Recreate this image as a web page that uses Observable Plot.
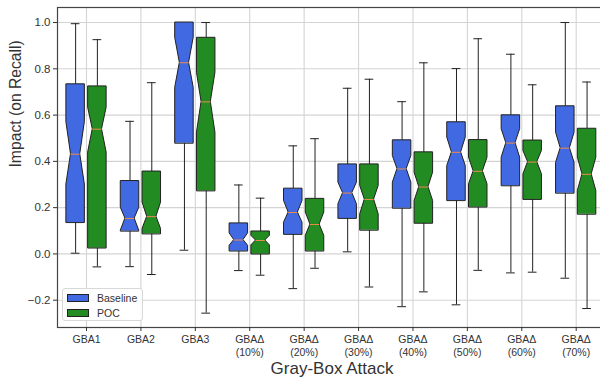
<!DOCTYPE html>
<html>
<head>
<meta charset="utf-8">
<script src="https://cdn.jsdelivr.net/npm/d3@7"></script>
<script src="https://cdn.jsdelivr.net/npm/@observablehq/plot@0.6"></script>
<style>
  body { margin: 0; background: #fff; }
  #wrap { position: relative; width: 600px; height: 381px; overflow: hidden; font-family: "Liberation Sans", Arial, sans-serif; }
  #wrap svg { display: block; max-width: none !important; }
  #legend { position: absolute; left: 62px; top: 288px; width: 81px; height: 33px; border: 1px solid #d8d8d8; border-radius: 3px; background: rgba(255,255,255,0.85); box-sizing: border-box; font-size: 10.5px; color: #333; }
  .item { position: absolute; left: 4px; display: flex; align-items: center; line-height: 12px; }
  .sw { width: 22px; height: 8px; border: 1px solid #222; box-sizing: border-box; margin-right: 8px; }
</style>
</head>
<body>
<div id="wrap"></div>
<script>
const categories = ["GBA1","GBA2","GBA3","GBAΔ\n(10%)","GBAΔ\n(20%)","GBAΔ\n(30%)","GBAΔ\n(40%)","GBAΔ\n(50%)","GBAΔ\n(60%)","GBAΔ\n(70%)"];
const seriesNames = ["Baseline","POC"];
const seriesColors = ["#4169e1","#228b22"];
// [whiskerLow, q1, notchLow, median, notchHigh, q3, whiskerHigh]
const baseline = [
  [0.003, 0.135, 0.300, 0.431, 0.570, 0.733, 0.995],
  [-0.055, 0.098, 0.100, 0.153, 0.200, 0.315, 0.573],
  [0.016, 0.478, 0.718, 0.826, 0.934, 1.000, 1.000],
  [-0.072, 0.012, 0.035, 0.060, 0.089, 0.132, 0.298],
  [-0.150, 0.084, 0.135, 0.179, 0.229, 0.282, 0.467],
  [0.009, 0.153, 0.215, 0.263, 0.308, 0.387, 0.716],
  [-0.228, 0.197, 0.308, 0.367, 0.423, 0.491, 0.658],
  [-0.220, 0.230, 0.380, 0.439, 0.503, 0.569, 0.801],
  [-0.082, 0.294, 0.416, 0.479, 0.539, 0.599, 0.863],
  [-0.105, 0.262, 0.394, 0.457, 0.524, 0.638, 1.000]
];
const poc = [
  [-0.056, 0.025, 0.438, 0.539, 0.632, 0.724, 0.926],
  [-0.089, 0.086, 0.108, 0.161, 0.222, 0.356, 0.740],
  [-0.256, 0.272, 0.524, 0.657, 0.783, 0.934, 1.000],
  [-0.092, -0.001, 0.037, 0.058, 0.078, 0.097, 0.241],
  [-0.062, 0.012, 0.078, 0.127, 0.179, 0.238, 0.498],
  [-0.143, 0.102, 0.171, 0.235, 0.294, 0.387, 0.755],
  [-0.164, 0.132, 0.229, 0.289, 0.351, 0.439, 0.826],
  [-0.071, 0.202, 0.301, 0.357, 0.416, 0.492, 0.930],
  [-0.079, 0.235, 0.344, 0.397, 0.445, 0.490, 0.731],
  [-0.236, 0.171, 0.272, 0.344, 0.416, 0.541, 0.743]
];
const yTicks = [-0.2, 0.0, 0.2, 0.4, 0.6, 0.8, 1.0];

const offset = 0.2, hw = 0.17, nw = 0.085, cap = 0.08;
const boxes = [];
[baseline, poc].forEach((arr, s) => arr.forEach((st, i) => {
  boxes.push({id: s + "-" + i, s, pos: i + 1 + (s === 0 ? -offset : offset),
    lo: st[0], q1: st[1], nlo: st[2], med: st[3], nhi: st[4], q3: st[5], hi: st[6]});
}));
const outline = boxes.flatMap(b => [
  {id: b.id, s: b.s, y: b.q1, x1: b.pos - hw, x2: b.pos + hw},
  {id: b.id, s: b.s, y: b.nlo, x1: b.pos - hw, x2: b.pos + hw},
  {id: b.id, s: b.s, y: b.med, x1: b.pos - nw, x2: b.pos + nw},
  {id: b.id, s: b.s, y: b.nhi, x1: b.pos - hw, x2: b.pos + hw},
  {id: b.id, s: b.s, y: b.q3, x1: b.pos - hw, x2: b.pos + hw}
]);

const chart = Plot.plot({
  width: 606, height: 381,
  marginLeft: 57, marginRight: 0, marginTop: 7, marginBottom: 54,
  style: {fontFamily: "Liberation Sans, Arial, sans-serif", fontSize: "11.5px", color: "#333", background: "#fff", maxWidth: "none"},
  x: {type: "linear", domain: [0.467, 10.557]},
  y: {type: "linear", domain: [-0.318, 1.065]},
  marks: [
    Plot.gridY(yTicks, {stroke: "#d4d4d4", strokeOpacity: 1, strokeWidth: 1.1}),
    Plot.gridX(d3.range(1, 11), {stroke: "#d4d4d4", strokeOpacity: 1, strokeWidth: 1.1}),
    Plot.ruleX(boxes, {x: "pos", y1: "q3", y2: "hi", stroke: "#222", strokeWidth: 1}),
    Plot.ruleX(boxes, {x: "pos", y1: "lo", y2: "q1", stroke: "#222", strokeWidth: 1}),
    Plot.ruleY(boxes, {y: "hi", x1: d => d.pos - cap, x2: d => d.pos + cap, stroke: "#222", strokeWidth: 1}),
    Plot.ruleY(boxes, {y: "lo", x1: d => d.pos - cap, x2: d => d.pos + cap, stroke: "#222", strokeWidth: 1}),
    Plot.areaX(outline, {y: "y", x1: "x1", x2: "x2", z: "id", fill: d => seriesColors[d.s], stroke: "#222", strokeWidth: 1, curve: "linear"}),
    Plot.ruleY(boxes, {y: "med", x1: d => d.pos - nw, x2: d => d.pos + nw, stroke: "#f08a4b", strokeWidth: 1}),
    Plot.frame({stroke: "#444", strokeWidth: 1.2}),
    Plot.axisY(yTicks, {tickSize: 4, tickPadding: 3, tickFormat: d3.format(".1f"), label: null, fontSize: 11.5}),
    Plot.axisX(d3.range(1, 11), {tickSize: 4, tickPadding: 3, tickFormat: d => categories[d - 1], label: null, lineHeight: 1.2, fontSize: 10.5}),
    Plot.text(["Impact (on Recall)"], {text: d => d, frameAnchor: "left", dx: -42, rotate: -90, fontSize: 15.7, fill: "#333"}),
    Plot.text(["Gray-Box Attack"], {text: d => d, frameAnchor: "bottom", dy: 46.5, fontSize: 17, fill: "#333"})
  ]
});
const wrap = document.getElementById("wrap");
wrap.appendChild(chart);
const legend = document.createElement("div");
legend.id = "legend";
seriesNames.forEach((name, i) => {
  const it = document.createElement("div");
  it.className = "item";
  it.style.top = (i === 0 ? 3 : 18) + "px";
  it.innerHTML = `<span class="sw" style="background:${seriesColors[i]}"></span><span>${name}</span>`;
  legend.appendChild(it);
});
wrap.appendChild(legend);
</script>
</body>
</html>
